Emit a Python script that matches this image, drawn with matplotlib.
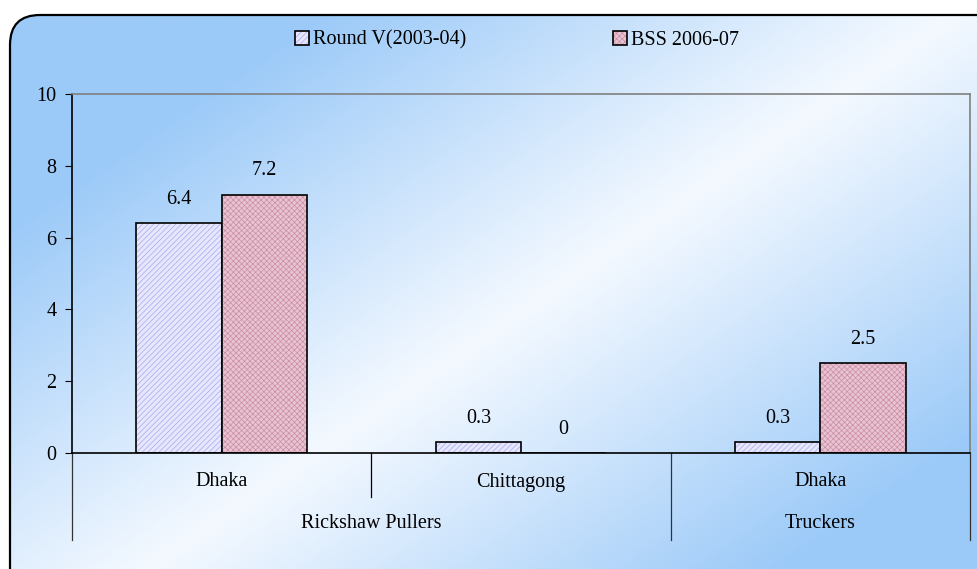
import numpy as np
import matplotlib.pyplot as plt
from matplotlib.patches import FancyBboxPatch
from matplotlib.colors import LinearSegmentedColormap
import matplotlib.transforms as mtransforms

plt.rcParams['font.family'] = ['Liberation Serif', 'DejaVu Serif']
plt.rcParams['hatch.linewidth'] = 0.5

# data
cities = ["Dhaka", "Chittagong", "Dhaka"]
groups = ["Rickshaw Pullers", "Truckers"]
group_span = [(0, 2), (2, 3)]
series = ["Round V(2003-04)", "BSS 2006-07"]
round_v = [6.4, 0.3, 0.3]
bss = [7.2, 0, 2.5]

W, H = 977, 569
fs = 14.5
fig = plt.figure(figsize=(W / 100, H / 100), dpi=100)
fig.patch.set_facecolor('white')

# background with rounded frame
bg = fig.add_axes([0, 0, 1, 1])
bg.set_xlim(0, W)
bg.set_ylim(H, 0)
bg.axis('off')
xx, yy = np.meshgrid(np.linspace(0, 1, 300), np.linspace(0, 1, 200))
t = np.abs((xx * 1.0 + yy * 0.85) - 1.0)
cmap = LinearSegmentedColormap.from_list(
    'bgblue', [(0, '#f4f9ff'), (0.35, '#d6e9fd'), (1, '#9ccaf8')])
img = bg.imshow(t, cmap=cmap, extent=(0, W, H, 0), aspect='auto', vmin=0, vmax=0.65)
frame = FancyBboxPatch((10, 15), 1000, 600, boxstyle="round,pad=0,rounding_size=30",
                       facecolor='none', edgecolor='black', linewidth=1.6)
bg.add_patch(frame)
img.set_clip_path(frame)

# main axes
left, right = 72 / W, 970 / W
bottom, top = (H - 453) / H, (H - 94) / H
ax = fig.add_axes([left, bottom, right - left, top - bottom])
ax.patch.set_alpha(0)

x = np.arange(len(cities)) + 0.5
w = 0.285
b1 = ax.bar(x - w / 2, round_v, w, facecolor='#e6e6fc', edgecolor='black', linewidth=1.2,
            hatch='//////', label=series[0])
b2 = ax.bar(x + w / 2, bss, w, facecolor='#e8c4d2', edgecolor='black', linewidth=1.2,
            hatch='xxxxxx', label=series[1])
for p in b1:
    p._hatch_color = (0.66, 0.66, 0.94, 1)
for p in b2:
    p._hatch_color = (0.80, 0.55, 0.65, 1)

for bars, vals in ((b1, round_v), (b2, bss)):
    for p, v in zip(bars, vals):
        ax.annotate(f"{v:g}", (p.get_x() + p.get_width() / 2, v), xytext=(0, 17),
                    textcoords='offset points', ha='center', va='center', fontsize=fs)

ax.set_xlim(0, 3)
ax.set_ylim(0, 10)
ax.set_yticks(range(0, 11, 2))
ax.tick_params(axis='y', labelsize=fs, length=5, direction='out', pad=6)
ax.set_xticks([])
for s in ('top', 'right'):
    ax.spines[s].set_color('#808080')
    ax.spines[s].set_linewidth(1.2)
ax.spines['bottom'].set_linewidth(1.2)
ax.spines['left'].set_linewidth(1.2)

# multi-level category axis
trans = mtransforms.blended_transform_factory(ax.transData, ax.transAxes)
ph = 453 - 94
for xc, name in zip(x, cities):
    ax.text(xc, -29 / ph, name, transform=trans, ha='center', va='center', fontsize=fs)
for (a, b), name in zip(group_span, groups):
    ax.text((a + b) / 2, -71 / ph, name, transform=trans, ha='center', va='center', fontsize=fs)
ax.plot([1, 1], [0, -44 / ph], transform=trans, color='black', lw=0.9, clip_on=False)
for xs in (0, 2, 3):
    ax.plot([xs, xs], [0, -87 / ph], transform=trans, color='#333333', lw=0.9, clip_on=False)

fig.legend(loc='center', bbox_to_anchor=(517 / W, 1 - 40 / H), ncol=2, frameon=False,
           fontsize=fs, handlelength=0.7, handleheight=0.7, handletextpad=0.2,
           columnspacing=7.3)

fig.savefig('out.png', dpi=100)
